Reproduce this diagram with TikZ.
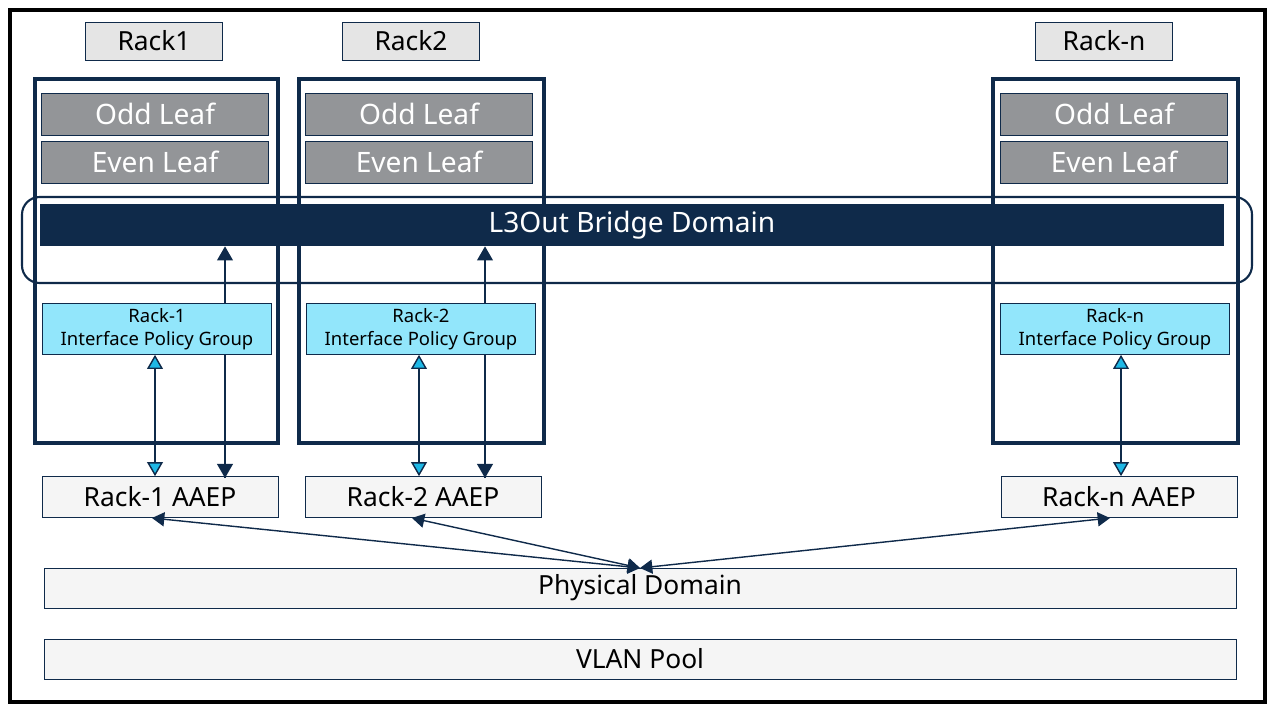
\documentclass[tikz,border=0pt]{standalone}
\usepackage{fontspec}
\setmainfont{Noto Sans}
\usetikzlibrary{arrows.meta,positioning}
\definecolor{navy}{HTML}{0F2A4A}
\definecolor{leafgray}{HTML}{939598}
\definecolor{ipgblue}{HTML}{92E6FB}
\definecolor{arrblue}{HTML}{1EB8E6}
\begin{document}
\begin{tikzpicture}[x=0.02cm,y=-0.02cm]
  \tikzstyle{rack label}=[draw=navy,fill=black!10,minimum width=2.74cm,minimum height=0.76cm,font=\fontsize{15}{16}\selectfont]
  \tikzstyle{rack}=[draw=navy,line width=2pt]
  \tikzstyle{leaf}=[draw=navy,fill=leafgray,text=white,minimum width=4.54cm,minimum height=0.84cm,font=\fontsize{16}{17}\selectfont]
  \tikzstyle{ipg}=[draw=navy,fill=ipgblue,minimum width=4.58cm,minimum height=1.02cm,align=center,font=\fontsize{10.5}{13}\selectfont,inner sep=1pt]
  \tikzstyle{aaep}=[draw=navy,fill=black!4,minimum width=4.72cm,minimum height=0.82cm,font=\fontsize{15}{16}\selectfont]
  \tikzstyle{dom box}=[draw=navy,fill=black!4,minimum width=23.84cm,minimum height=0.8cm,font=\fontsize{15}{16}\selectfont]
  \tikzstyle{blue arrow}=[draw=navy,thick,{Triangle[fill=arrblue,length=8pt,width=9pt]}-{Triangle[fill=arrblue,length=8pt,width=9pt]}]
  \tikzstyle{navy arrow}=[draw=navy,thick,-{Triangle[length=8pt,width=9pt]}]
  \tikzstyle{both arrow}=[draw=navy,thick,{Triangle[length=7pt,width=8pt]}-{Triangle[length=7pt,width=8pt]}]
  \useasboundingbox (0,0) rectangle (1275,711);
  \draw[line width=2pt] (10,10) rectangle (1265,702);
  % racks
  \node [rack label] (r1) at (154,41) {Rack1};
  \node [rack label] (r2) at (411,41) {Rack2};
  \node [rack label] (rn) at (1104,41) {Rack-n};
  \draw [rack] (35,79) rectangle (278,443);
  \draw [rack] (299,79) rectangle (544,443);
  \draw [rack] (993,79) rectangle (1238,443);
  \node [leaf] (odd1) at (155,114) {Odd Leaf};
  \node [leaf] (even1) at (155,162) {Even Leaf};
  \node [leaf] (odd2) at (419,114) {Odd Leaf};
  \node [leaf] (even2) at (419,162) {Even Leaf};
  \node [leaf] (oddn) at (1114,114) {Odd Leaf};
  \node [leaf] (evenn) at (1114,162) {Even Leaf};
  % bridge domain
  \draw [navy,line width=1.2pt,rounded corners=10pt] (22,197) rectangle (1252,283);
  \node [fill=navy,text=white,minimum width=23.68cm,minimum height=0.84cm,font=\fontsize{16}{17}\selectfont] (bd) at (632,225) {L3Out Bridge Domain};
  % AAEPs
  \node [aaep] (a1) at (160,497) {Rack-1 AAEP};
  \node [aaep] (a2) at (423,497) {Rack-2 AAEP};
  \node [aaep] (an) at (1119,497) {Rack-n AAEP};
  \coordinate (t1) at (225,478);
  \coordinate (t2) at (485,478);
  \draw [navy arrow] (t1) -- (t1 |- bd.south);
  \draw [navy arrow] (t2) -- (t2 |- bd.south);
  \draw [navy arrow] (225,300) -- (t1);
  \draw [navy arrow] (485,300) -- (t2);
  % interface policy groups
  \node [ipg] (ipg1) at (157,329) {Rack-1\\Interface Policy Group};
  \node [ipg] (ipg2) at (421,329) {Rack-2\\Interface Policy Group};
  \node [ipg] (ipgn) at (1115,329) {Rack-n\\Interface Policy Group};
  \coordinate (x1) at (155,0);
  \coordinate (x2) at (419,0);
  \coordinate (xn) at (1121,0);
  \draw [blue arrow] (ipg1.south -| x1) -- (a1.north -| x1);
  \draw [blue arrow] (ipg2.south -| x2) -- (a2.north -| x2);
  \draw [blue arrow] (ipgn.south -| xn) -- (an.north -| xn);
  % domains
  \node [dom box] (phys) at (640,588) {Physical Domain};
  \node [dom box] (vlan) at (640,659) {VLAN Pool};
  \coordinate (pd) at (640,568);
  \coordinate (e1) at (152,518);
  \coordinate (e2) at (412,518);
  \coordinate (en) at (1110,518);
  \draw [both arrow] (e1) -- (pd);
  \draw [both arrow] (e2) -- (pd);
  \draw [both arrow] (en) -- (pd);
\end{tikzpicture}
\end{document}
